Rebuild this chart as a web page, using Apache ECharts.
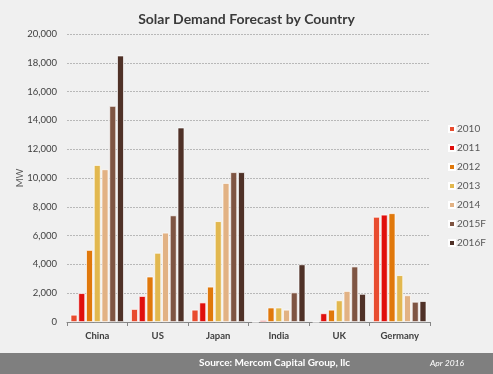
<!DOCTYPE html>
<html><head><meta charset="utf-8">
<script src="https://cdn.jsdelivr.net/npm/echarts@6/dist/echarts.min.js"></script>
<style>html,body{margin:0;padding:0;background:#f0f0f0}#c{width:493px;height:374px}</style>
</head><body><div id="c"></div>
<script>
const categories = ["China", "US", "Japan", "India", "UK", "Germany"];
const seriesNames = ["2010", "2011", "2012", "2013", "2014", "2015F", "2016F"];
const v2010  = [500, 900, 850, 0, 0, 7300];
const v2011  = [2000, 1800, 1350, 120, 600, 7450];
const v2012  = [5000, 3150, 2450, 1000, 850, 7550];
const v2013  = [10900, 4800, 7000, 1000, 1500, 3250];
const v2014  = [10600, 6200, 9650, 850, 2150, 1850];
const v2015F = [15000, 7400, 10400, 2050, 3850, 1400];
const v2016F = [18500, 13500, 10400, 4000, 1950, 1450];
const colors = ["#e84c2f", "#e00f0c", "#e0780b", "#e2b84f", "#e2b284", "#7f5543", "#4f3127"];
const allValues = [v2010, v2011, v2012, v2013, v2014, v2015F, v2016F];

const chart = echarts.init(document.getElementById('c'), null, {renderer: 'canvas'});
const font = 'Lato, "Open Sans", sans-serif';
chart.setOption({
  backgroundColor: '#f0f0f0',
  textStyle: {fontFamily: font},
  title: {
    text: 'Solar Demand Forecast by Country',
    left: 'center', top: 7,
    textStyle: {fontFamily: font, fontSize: 14, fontWeight: 'bold', color: '#3a3a3a'}
  },
  legend: {
    orient: 'vertical', left: 443, top: 118,
    itemWidth: 6, itemHeight: 6, itemGap: 7,
    icon: 'rect',
    textStyle: {fontFamily: font, fontSize: 10, color: '#595959', lineHeight: 12, padding: [0,0,0,-3]},
    data: seriesNames
  },
  grid: {left: 67, right: 63, top: 34, bottom: 52},
  xAxis: {
    type: 'category', data: categories,
    axisLine: {lineStyle: {color: '#868686'}},
    axisTick: {show: true, length: 4, lineStyle: {color: '#868686'}},
    axisLabel: {fontFamily: font, fontSize: 9.5, fontWeight: 'bold', color: '#404040', margin: 9}
  },
  yAxis: {
    type: 'value', min: 0, max: 20000, interval: 2000,
    name: 'MW', nameLocation: 'middle', nameGap: 42, nameRotate: 90,
    nameMoveOverlap: false,
    nameTextStyle: {fontFamily: font, fontSize: 9.5, color: '#595959'},
    axisLine: {show: false}, axisTick: {show: false},
    splitLine: {lineStyle: {color: '#b8b8b8', type: [2, 1]}},
    axisLabel: {fontFamily: font, fontSize: 9.5, color: '#404040', margin: 10,
      formatter: v => v.toLocaleString('en-US')}
  },
  series: seriesNames.map((n, i) => ({
    name: n, type: 'bar', data: allValues[i],
    barCategoryGap: '12%', barGap: '15%',
    itemStyle: {color: colors[i], borderColor: '#ffffff', borderWidth: 0.7},
    emphasis: {disabled: true}
  })),
  graphic: [
    {type: 'rect', left: 0, top: 353, shape: {width: 493, height: 21}, style: {fill: '#7f7f7f'}, silent: true},
    {type: 'text', left: 199, top: 358, style: {text: 'Source: Mercom Capital Group, llc', fill: '#ffffff', font: 'bold 10px ' + font}},
    {type: 'text', left: 430, top: 359, style: {text: 'Apr 2016', fill: '#ffffff', font: 'italic 8.5px ' + font}}
  ],
  animation: false
});
</script></body></html>
